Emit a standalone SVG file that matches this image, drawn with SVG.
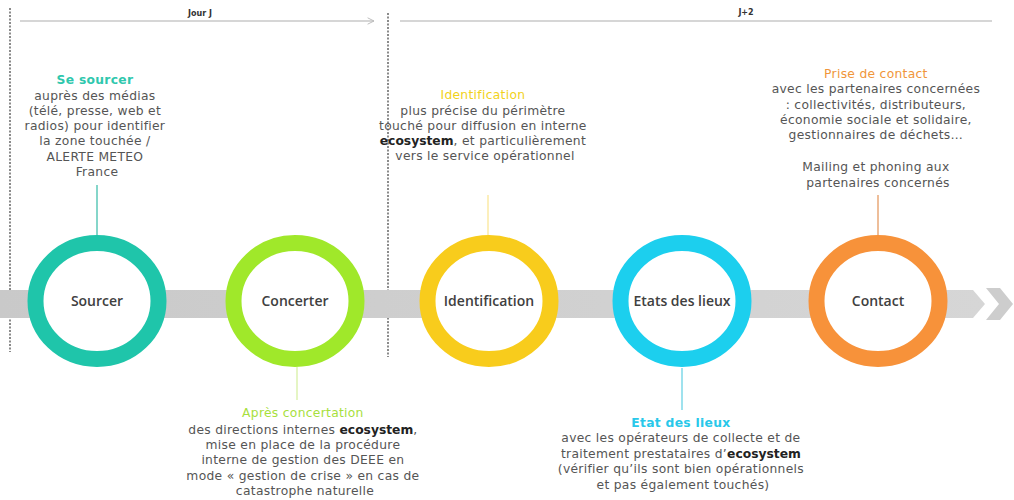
<svg xmlns="http://www.w3.org/2000/svg" width="1014" height="500" viewBox="0 0 1014 500">
<defs>
<style>
.body{font-family:"DejaVu Sans","Liberation Sans",sans-serif;font-size:12.3px;letter-spacing:0.3px;fill:#555;text-anchor:middle}
.b{font-weight:bold;fill:#222;letter-spacing:0}
.lbl{font-family:"Open Sans","DejaVu Sans",sans-serif;font-size:14px;font-weight:600;fill:#404040;text-anchor:middle}
.ring{fill:#fff;stroke-width:16}
.dash{stroke:#666;stroke-width:1.5;stroke-dasharray:2 1.5;fill:none}
.tl{stroke:#c8c8c8;stroke-width:1.5;fill:none}
.hdr{font-family:"DejaVu Sans","Liberation Sans",sans-serif;font-size:8px;font-weight:bold;fill:#333;text-anchor:middle}
.conn{stroke-width:1.5;fill:none}
</style>
<marker id="open" viewBox="0 0 10 10" refX="9" refY="5" markerWidth="8" markerHeight="8" orient="auto" markerUnits="userSpaceOnUse">
<path d="M1,1 L9,5 L1,9" fill="none" stroke="#bbb" stroke-width="1.2"/>
</marker>
<linearGradient id="band" x1="0" y1="0" x2="1" y2="0">
<stop offset="0" stop-color="#c9c9c9"/>
<stop offset="1" stop-color="#d6d6d6"/>
</linearGradient>
</defs>
<rect width="1014" height="500" fill="#fff"/>

<g id="timeline">
<line class="dash" x1="10" y1="8" x2="10" y2="352"/>
<line class="dash" x1="388" y1="13" x2="388" y2="357"/>
<line class="tl" x1="20" y1="21" x2="374" y2="21" marker-end="url(#open)"/>
<line class="tl" x1="400" y1="21" x2="992" y2="21"/>
<text class="hdr" x="200" y="16">Jour J</text>
<text class="hdr" x="746" y="15">J+2</text>
<polygon points="0,290 973,290 985,304 973,318 0,318" fill="url(#band)"/>
<polygon points="986,288 1000,288 1013,304 1000,320 986,320 999,304" fill="#cdcdcd"/>
</g>

<g id="connectors">
<line class="conn" x1="97" y1="185" x2="97" y2="236" stroke="#5cc8b8"/>
<line class="conn" x1="488" y1="195" x2="488" y2="236" stroke="#fbeaa6"/>
<line class="conn" x1="878" y1="195" x2="878" y2="236" stroke="#e8a878"/>
<line class="conn" x1="297" y1="367" x2="297" y2="400" stroke="#ddf2b0"/>
<line class="conn" x1="682" y1="368" x2="682" y2="410" stroke="#7fd8e8"/>
</g>

<g id="sourcer">
<ellipse class="ring" cx="97" cy="301" rx="61.5" ry="58" stroke="#1fc5aa"/>
<text class="lbl" x="97" y="306">Sourcer</text>
<text class="body" x="97" y="84"><tspan fill="#2fc7ad" font-weight="bold">Se sourcer</tspan>
<tspan x="97" y="100">auprès des médias</tspan>
<tspan x="97" y="115">(télé, presse, web et</tspan>
<tspan x="97" y="130">radios) pour identifier</tspan>
<tspan x="97" y="145">la zone touchée /</tspan>
<tspan x="97" y="161">ALERTE METEO</tspan>
<tspan x="97" y="176">France</tspan></text>
</g>

<g id="concerter">
<ellipse class="ring" cx="295" cy="301" rx="61.5" ry="58" stroke="#a0e82a"/>
<text class="lbl" x="295" y="306">Concerter</text>
<text class="body" x="305" y="417"><tspan fill="#a7e03d">Après concertation</tspan>
<tspan x="305" y="434">des directions internes <tspan class="b">ecosystem</tspan>,</tspan>
<tspan x="305" y="449">mise en place de la procédure</tspan>
<tspan x="305" y="464">interne de gestion des DEEE en</tspan>
<tspan x="305" y="480">mode « gestion de crise » en cas de</tspan>
<tspan x="305" y="495">catastrophe naturelle</tspan></text>
</g>

<g id="identification">
<ellipse class="ring" cx="489" cy="301" rx="61.5" ry="58" stroke="#f8cc1c"/>
<text class="lbl" x="489" y="306">Identification</text>
<text class="body" x="485" y="99"><tspan fill="#f2d21a">Identification</tspan>
<tspan x="485" y="115">plus précise du périmètre</tspan>
<tspan x="485" y="130">touché pour diffusion en interne</tspan>
<tspan x="485" y="145"><tspan class="b">ecosystem</tspan>, et particulièrement</tspan>
<tspan x="485" y="160">vers le service opérationnel</tspan></text>
</g>

<g id="etats">
<ellipse class="ring" cx="682" cy="301" rx="61.5" ry="58" stroke="#1ccfee"/>
<text class="lbl" x="682" y="306">Etats des lieux</text>
<text class="body" x="683" y="427"><tspan fill="#28c8ea" font-weight="bold">Etat des lieux</tspan>
<tspan x="683" y="442">avec les opérateurs de collecte et de</tspan>
<tspan x="683" y="458">traitement prestataires d’<tspan class="b">ecosystem</tspan></tspan>
<tspan x="683" y="473">(vérifier qu’ils sont bien opérationnels</tspan>
<tspan x="683" y="489">et pas également touchés)</tspan></text>
</g>

<g id="contact">
<ellipse class="ring" cx="878" cy="301" rx="61.5" ry="58" stroke="#f7923a"/>
<text class="lbl" x="878" y="306">Contact</text>
<text class="body" x="878" y="78"><tspan fill="#f0963a">Prise de contact</tspan>
<tspan x="878" y="93">avec les partenaires concernées</tspan>
<tspan x="878" y="109">: collectivités, distributeurs,</tspan>
<tspan x="878" y="124">économie sociale et solidaire,</tspan>
<tspan x="878" y="139">gestionnaires de déchets…</tspan>
<tspan x="878" y="171">Mailing et phoning aux</tspan>
<tspan x="878" y="187">partenaires concernés</tspan></text>
</g>
</svg>
